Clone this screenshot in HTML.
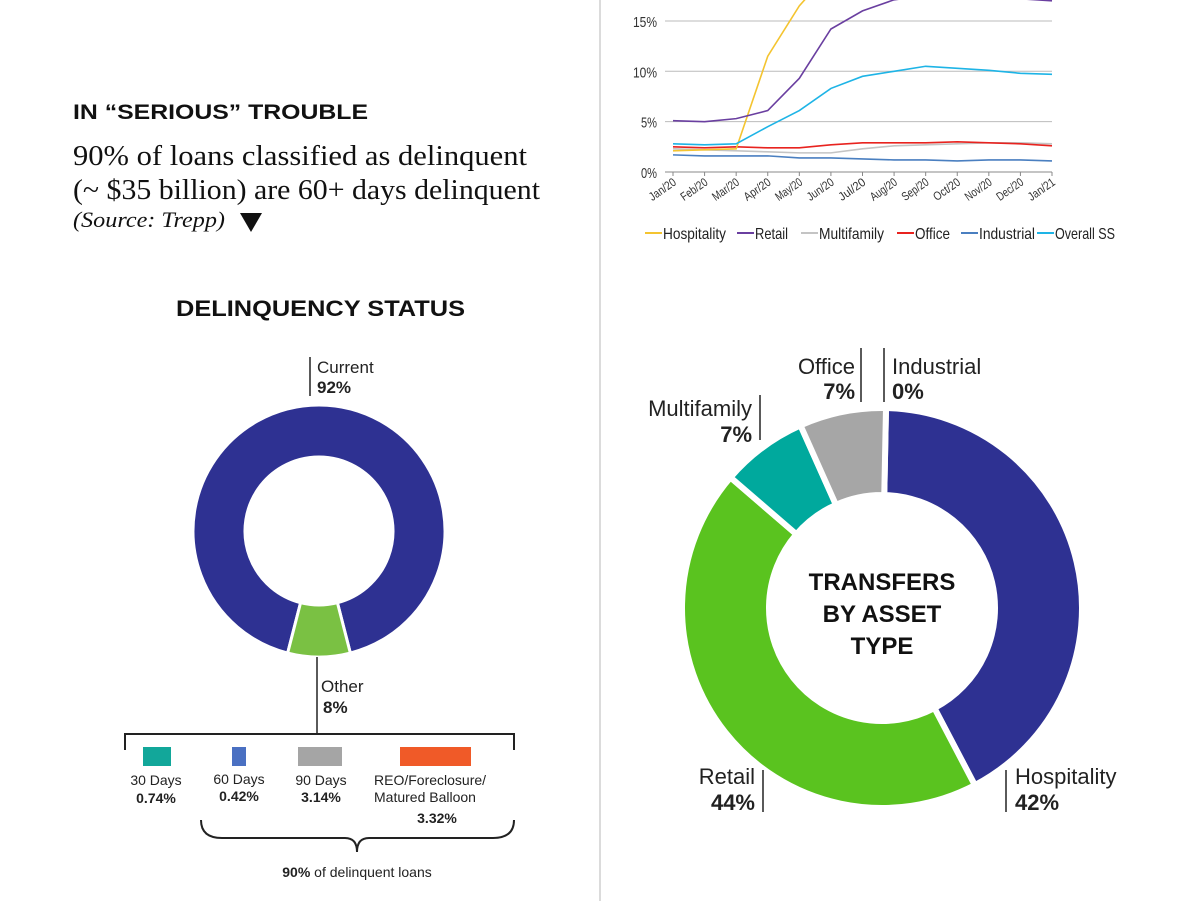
<!DOCTYPE html>
<html><head><meta charset="utf-8">
<style>
body{margin:0;background:#fff;width:1200px;height:901px;overflow:hidden;font-family:"Liberation Sans",sans-serif;}
svg{position:absolute;left:0;top:0}
</style></head>
<body>
<svg id="s" width="1200" height="901" xmlns="http://www.w3.org/2000/svg">
<line x1="600" y1="0" x2="600" y2="901" stroke="#cfcfcf" stroke-width="1.5"/>
<text x="73" y="119" font-size="21" font-weight="bold" fill="#111" textLength="295" lengthAdjust="spacingAndGlyphs">IN “SERIOUS” TROUBLE</text>
<text x="73" y="165" font-family="Liberation Serif,serif" font-size="28" fill="#111" textLength="454" lengthAdjust="spacingAndGlyphs">90% of loans classified as delinquent</text>
<text x="73" y="199" font-family="Liberation Serif,serif" font-size="28" fill="#111" textLength="467" lengthAdjust="spacingAndGlyphs">(~ $35 billion) are 60+ days delinquent</text>
<text x="73" y="227" font-family="Liberation Serif,serif" font-style="italic" font-size="22" fill="#111" textLength="152" lengthAdjust="spacingAndGlyphs">(Source: Trepp)</text>
<polygon points="240,213 262,213 251,232" fill="#111"/>
<text x="176" y="316" font-size="22" font-weight="bold" fill="#111" textLength="289" lengthAdjust="spacingAndGlyphs">DELINQUENCY STATUS</text>
<g id="d1"></g>
<line x1="310" y1="357" x2="310" y2="396" stroke="#222" stroke-width="1.5"/>
<text x="317" y="373" font-size="17" fill="#222">Current</text>
<text x="317" y="393" font-size="17" font-weight="bold" fill="#222">92%</text>
<line x1="317" y1="657" x2="317" y2="733" stroke="#222" stroke-width="1.5"/>
<text x="321" y="692" font-size="17" fill="#222">Other</text>
<text x="323" y="713" font-size="17" font-weight="bold" fill="#222">8%</text>
<path d="M125,750 V734 H514 V750" fill="none" stroke="#222" stroke-width="2"/>
<rect x="143" y="747" width="28" height="19" fill="#12a79a"/>
<rect x="232" y="747" width="14" height="19" fill="#4a70c2"/>
<rect x="298" y="747" width="44" height="19" fill="#a5a5a5"/>
<rect x="400" y="747" width="71" height="19" fill="#f05a28"/>
<g font-size="14" fill="#222" text-anchor="middle">
<text x="156" y="785">30 Days</text><text x="156" y="803" font-weight="bold">0.74%</text>
<text x="239" y="784">60 Days</text><text x="239" y="801" font-weight="bold">0.42%</text>
<text x="321" y="785">90 Days</text><text x="321" y="802" font-weight="bold">3.14%</text>
<text x="374" y="785" text-anchor="start">REO/Foreclosure/</text>
<text x="374" y="802" text-anchor="start">Matured Balloon</text>
<text x="437" y="823" font-weight="bold">3.32%</text>
<text x="357" y="877"><tspan font-weight="bold">90%</tspan> of delinquent loans</text>
</g>
<path d="M201,820 Q201,838 222,838 H345 Q357,838 357,852 Q357,838 369,838 H493 Q514,838 514,820" fill="none" stroke="#222" stroke-width="2"/>
<g id="lc"></g>
<g id="d2"></g>
<g font-size="22" fill="#222">
<text x="855" y="374" text-anchor="end">Office</text>
<text x="855" y="399" text-anchor="end" font-weight="bold">7%</text>
<text x="892" y="374">Industrial</text>
<text x="892" y="399" font-weight="bold">0%</text>
<text x="752" y="416" text-anchor="end">Multifamily</text>
<text x="752" y="442" text-anchor="end" font-weight="bold">7%</text>
<text x="755" y="784" text-anchor="end">Retail</text>
<text x="755" y="810" text-anchor="end" font-weight="bold">44%</text>
<text x="1015" y="784">Hospitality</text>
<text x="1015" y="810" font-weight="bold">42%</text>
</g>
<g stroke="#222" stroke-width="1.5">
<line x1="861" y1="348" x2="861" y2="402"/><line x1="884" y1="348" x2="884" y2="402"/>
<line x1="760" y1="395" x2="760" y2="440"/><line x1="763" y1="770" x2="763" y2="812"/>
<line x1="1006" y1="770" x2="1006" y2="812"/>
</g>
<g font-size="24" font-weight="bold" fill="#111" text-anchor="middle">
<text x="882" y="590">TRANSFERS</text><text x="882" y="622">BY ASSET</text><text x="882" y="654">TYPE</text>
</g>
</svg>
<script>
const months=["Jan/20","Feb/20","Mar/20","Apr/20","May/20","Jun/20","Jul/20","Aug/20","Sep/20","Oct/20","Nov/20","Dec/20","Jan/21"];
const yTicks=[0,5,10,15];
const seriesNames=["Hospitality","Retail","Multifamily","Office","Industrial","Overall SS"];
const hospitality=[2.1,2.2,2.3,11.5,16.5,20,24,23,22,21,20,20,20];
const retail=[5.1,5.0,5.3,6.1,9.3,14.2,16.0,17.1,17.5,17.6,17.5,17.2,17.0];
const multifamily=[2.3,2.2,2.1,2.0,1.9,1.9,2.3,2.6,2.7,2.8,2.9,2.9,2.8];
const office=[2.5,2.4,2.5,2.4,2.4,2.7,2.9,2.9,2.9,3.0,2.9,2.8,2.6];
const industrial=[1.7,1.6,1.6,1.6,1.4,1.4,1.3,1.2,1.2,1.1,1.2,1.2,1.1];
const overall=[2.8,2.7,2.8,4.5,6.1,8.3,9.5,10.0,10.5,10.3,10.1,9.8,9.7];
const colors=["#f4c430","#6a3fa0","#c4c4c4","#e8231f","#4a7fc0","#1eb4e6"];
const delinqLabels=["Current","Other"];
const delinqValues=[92,8];
const transferLabels=["Hospitality","Retail","Multifamily","Office","Industrial"];
const transferValues=[42,44,7,7,0];

const NS="http://www.w3.org/2000/svg";
function mk(tag,at,parent){const e=document.createElementNS(NS,tag);for(const k in at)e.setAttribute(k,at[k]);parent.appendChild(e);return e;}
const X=i=>673+i*(1052-673)/12;
const Y=v=>172-v*10.07;
const lc=document.getElementById('lc');
const clip=mk('clipPath',{id:'cp'},lc);mk('rect',{x:650,y:0,width:420,height:180},clip);
yTicks.forEach(t=>{
 const g=mk('line',{x1:665,x2:1052,y1:Y(t),y2:Y(t),stroke:t===0?'#888':'#bbb','stroke-width':1},lc);
 
 
 const s=String(t)+'%';
 const tx=mk('text',{x:657,y:Y(t)+6,'font-size':15,'text-anchor':'end',fill:'#333',textLength:s.length*8,lengthAdjust:'spacingAndGlyphs'},lc);
 tx.textContent=s;
 
 
});
months.forEach((m,i)=>{
 mk('line',{x1:X(i),x2:X(i),y1:172,y2:176,stroke:'#888'},lc);
 const t=mk('text',{x:X(i)+4,y:184,'font-size':12,'text-anchor':'end',fill:'#333',textLength:30,lengthAdjust:'spacingAndGlyphs',transform:`rotate(-35 ${X(i)+4} 184)`},lc);
 t.textContent=m;
 
 
});
const allSeries=[hospitality,retail,multifamily,office,industrial,overall];
const order=[2,4,3,0,1,5];
order.forEach(si=>{
 const p=mk('polyline',{points:allSeries[si].map((v,i)=>X(i)+','+Y(v)).join(' '),fill:'none',stroke:colors[si],'stroke-width':1.6,'clip-path':'url(#cp)'},lc);
 
 
});
const lx=[645,737,801,897,961,1037];
const lw=[63,33,65,35,56,60];
seriesNames.forEach((n,i)=>{
 mk('line',{x1:lx[i],x2:lx[i]+17,y1:233,y2:233,stroke:colors[i],'stroke-width':2},lc);
 const t=mk('text',{x:lx[i]+18,y:239,'font-size':16,fill:'#222',textLength:lw[i],lengthAdjust:'spacingAndGlyphs'},lc);
 t.textContent=n;
 
 
});

function arc(cx,cy,r0,r1,a0,a1){
 const p=(r,a)=>[cx+r*Math.sin(a),cy-r*Math.cos(a)];
 const L=(a1-a0)>Math.PI?1:0;
 const [x1,y1]=p(r1,a0),[x2,y2]=p(r1,a1),[x3,y3]=p(r0,a1),[x4,y4]=p(r0,a0);
 return `M${x1},${y1}A${r1},${r1} 0 ${L} 1 ${x2},${y2}L${x3},${y3}A${r0},${r0} 0 ${L} 0 ${x4},${y4}Z`;
}
function donut(g,cx,cy,r0,r1,vals,cols,start,names,gap){
 const tot=vals.reduce((a,b)=>a+b,0);let a=start;
 vals.forEach((v,i)=>{
  const s=v/tot*2*Math.PI;
  if(v>0){
   const p=mk('path',{d:arc(cx,cy,r0,r1,a,a+s),fill:cols[i],stroke:'#fff','stroke-width':gap},g);
   
   
  }
  a+=s;
 });
}
const d1s=delinqValues[1]/100*Math.PI;
donut(document.getElementById('d1'),319,531,74,126,delinqValues,["#2e3192","#7ac143"],Math.PI+d1s,delinqLabels,3);
donut(document.getElementById('d2'),882,608,113,200,transferValues,["#2e3192","#5ac31f","#00a99d","#a6a6a6","#888"],0.02,transferLabels,6);
</script>
</body></html>
